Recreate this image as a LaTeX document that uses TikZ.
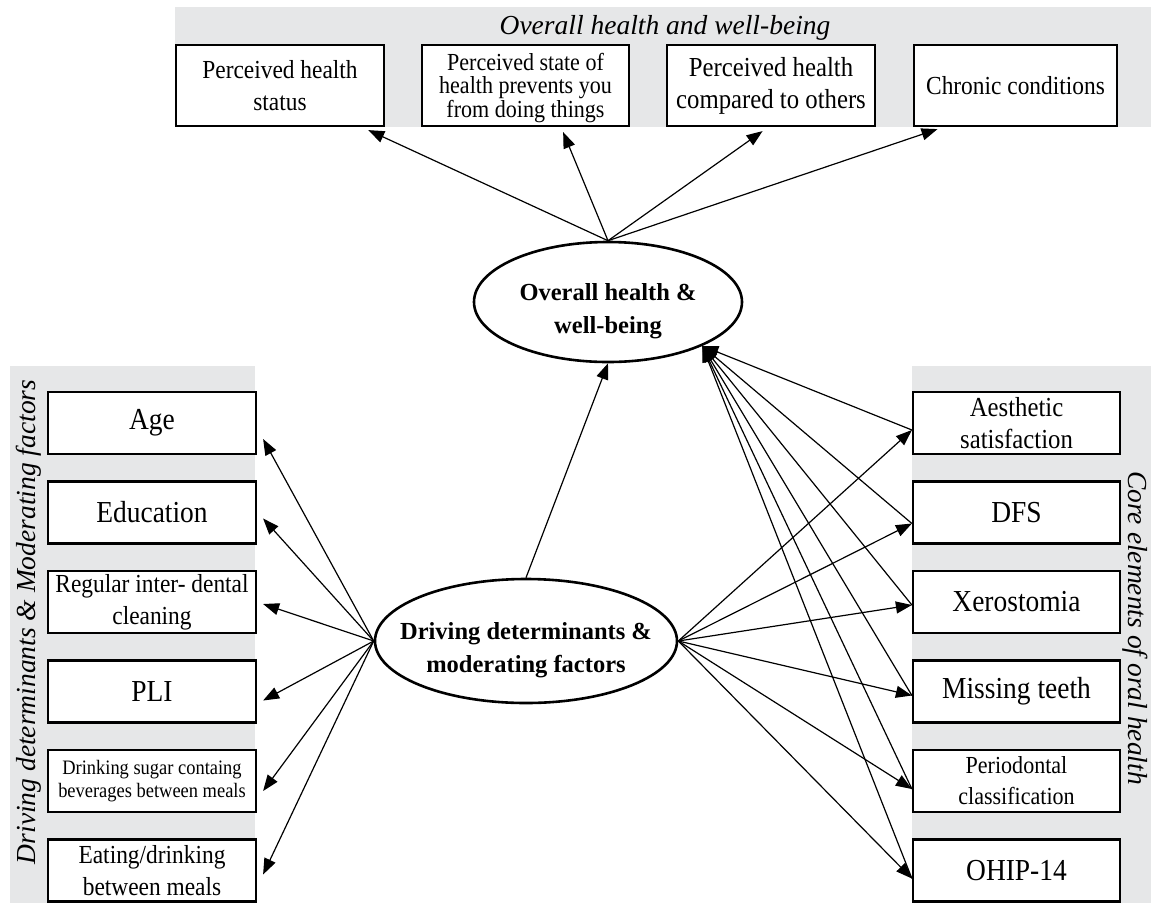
\documentclass[tikz,border=0pt]{standalone}
\usepackage{fontspec}
\setmainfont{Liberation Serif}
\newfontfamily\condserif[FakeStretch=0.9]{Liberation Serif}
\usetikzlibrary{shapes.geometric,arrows.meta,calc}
\definecolor{bandgray}{RGB}{230,231,232}
\begin{document}
\begin{tikzpicture}[x=1pt,y=-1pt,
  box/.style={draw, line width=2.2pt, fill=white, inner sep=0pt, align=center,
    font=\condserif\fontsize{26}{32}\selectfont},
  bigbox/.style={box, font=\condserif\fontsize{30.5}{32}\selectfont},
  widebox/.style={box, font=\condserif\fontsize{27.5}{32}\selectfont},
  smallbox/.style={box, font=\condserif\fontsize{24.5}{22.5}\selectfont},
  tinybox/.style={box, font=\condserif\fontsize{20.5}{23}\selectfont},
  midbox/.style={box, font=\condserif\fontsize{24.5}{31}\selectfont},
  oval/.style={draw, ellipse, line width=2.6pt, fill=white, inner sep=0pt},
  ovaltext/.style={align=center, font=\fontsize{24.5}{33}\selectfont\bfseries},
  bandtitle/.style={font=\fontsize{27.5}{30}\selectfont\itshape, inner sep=0pt},
  arr/.style={-{Triangle[length=16pt,width=12pt]}, line width=1.2pt}]
\useasboundingbox (0,0) rectangle (1151,903);
% bands
\fill[bandgray] (175,7) rectangle (1151,127);
\fill[bandgray] (10,366) rectangle (255,903);
\fill[bandgray] (912,366) rectangle (1151,903);
\node[bandtitle] (ttop) at (665,28) {Overall health and well-being};
\node[bandtitle, rotate=90] (tleft) at (29,622) {Driving determinants \& Moderating factors};
\node[bandtitle, rotate=-90] (tright) at (1135,628) {Core elements of oral health};
% top boxes
\node[box, minimum width=208, minimum height=81] (b1) at (280,85.5) {Perceived health\\status};
\node[smallbox, minimum width=207, minimum height=81] (b2) at (525.5,85.5) {};
\node[smallbox, draw=none, fill=none] (b2t) at ([yshift=-2.5pt]b2.center) {Perceived state of\\health prevents you\\from doing things};
\node[widebox, minimum width=208, minimum height=81] (b3) at (771,85.5) {Perceived health\\compared to others};
\node[box, minimum width=203, minimum height=81] (b4) at (1015.5,85.5) {Chronic conditions};
% left boxes
\node[bigbox, minimum width=208, minimum height=62] (age) at (152,423) {Age};
\node[bigbox, minimum width=208, minimum height=62] (edu) at (152,512.5) {Education};
\node[box, minimum width=208, minimum height=62] (reg) at (152,602) {Regular inter- dental\\cleaning};
\node[bigbox, minimum width=208, minimum height=62] (pli) at (152,691.5) {PLI};
\node[tinybox, minimum width=208, minimum height=62] (drk) at (152,781) {Drinking sugar containg\\beverages between meals};
\node[box, minimum width=208, minimum height=62] (eat) at (152,870.5) {Eating/drinking\\between meals};
% right boxes
\node[widebox, minimum width=207, minimum height=62] (aes) at (1016.5,423) {Aesthetic\\satisfaction};
\node[bigbox, minimum width=207, minimum height=62] (dfs) at (1016.5,512.5) {DFS};
\node[bigbox, minimum width=207, minimum height=62] (xer) at (1016.5,602) {Xerostomia};
\node[bigbox, minimum width=207, minimum height=62] (mis) at (1016.5,691.5) {Missing teeth};
\node[midbox, minimum width=207, minimum height=62] (per) at (1016.5,781) {Periodontal\\classification};
\node[bigbox, minimum width=207, minimum height=62] (ohp) at (1016.5,870.5) {OHIP-14};
% ellipses
\node[oval, minimum width=268, minimum height=120] (ov) at (608,302) {};
\node[ovaltext] (ovt) at ([yshift=-9pt]ov.center) {Overall health \&\\well-being};
\node[oval, minimum width=302, minimum height=124] (drv) at (526,641) {};
\node[ovaltext] (drvt) at ([yshift=-9pt]drv.center) {Driving determinants \&\\moderating factors};
% top arrows
\draw[arr] (ov.north) -- ([yshift=-3pt]$(b1.south west)!0.92!(b1.south east)$);
\draw[arr] (ov.north) -- ([yshift=-5pt]$(b2.south west)!0.68!(b2.south east)$);
\draw[arr] (ov.north) -- ([yshift=-4pt]$(b3.south west)!0.46!(b3.south east)$);
\draw[arr] (ov.north) -- ([yshift=-2pt]$(b4.south west)!0.12!(b4.south east)$);
% driving -> overall
\draw[arr] (drv.north) -- (ov.south);
% left arrows
\draw[arr] (drv.west) -- ([xshift=6pt,yshift=-16pt]age.east);
\draw[arr] (drv.west) -- ([xshift=6pt,yshift=-6pt]edu.east);
\draw[arr] (drv.west) -- ([xshift=6pt,yshift=-2pt]reg.east);
\draw[arr] (drv.west) -- ([xshift=6pt,yshift=-9pt]pli.east);
\draw[arr] (drv.west) -- ([xshift=6pt,yshift=-10pt]drk.east);
\draw[arr] (drv.west) -- ([xshift=6pt,yshift=-4pt]eat.east);
% right: driving -> core elements, core elements -> overall
\foreach \n/\s in {aes/-7, dfs/-11, xer/-3, mis/-4, per/-8, ohp/-8}{
  \coordinate (p\n) at ([yshift=\s pt]\n.west);
  \draw[arr] (drv.east) -- (p\n);
  \draw[arr] (p\n) -- (ov.-25);
}
\end{tikzpicture}
\end{document}
